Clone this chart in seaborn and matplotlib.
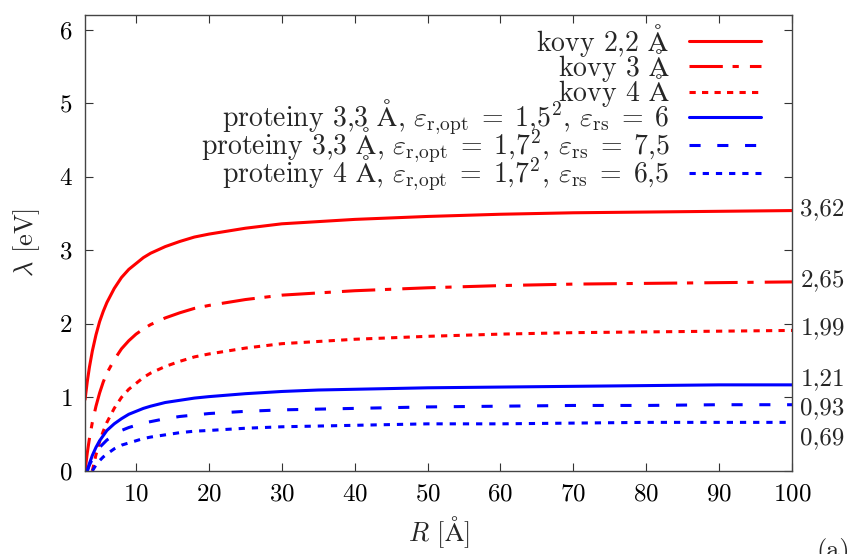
import matplotlib
matplotlib.use("Agg")
import matplotlib.pyplot as plt
import seaborn as sns
import pandas as pd

# ---- data ----
R_a = [3, 3.3, 3.6, 4, 4.5, 5, 5.5, 6, 7, 8, 9, 10, 11, 12, 14, 16, 18, 20, 25, 30, 35, 40, 50, 60, 70, 80, 90, 100]
kovy22 = [0.97, 1.21, 1.41, 1.63, 1.85, 2.03, 2.17, 2.29, 2.48, 2.63, 2.74, 2.82, 2.90, 2.96, 3.05, 3.12, 3.18, 3.22,
          3.30, 3.36, 3.39, 3.42, 3.46, 3.49, 3.51, 3.52, 3.53, 3.54]
kovy3 = [0.00, 0.24, 0.44, 0.66, 0.88, 1.06, 1.21, 1.33, 1.51, 1.66, 1.77, 1.86, 1.93, 1.99, 2.08, 2.15, 2.21, 2.25,
         2.33, 2.39, 2.42, 2.45, 2.49, 2.52, 2.54, 2.55, 2.56, 2.57]

R_b = [4, 4.5, 5, 5.5, 6, 7, 8, 9, 10, 11, 12, 14, 16, 18, 20, 25, 30, 35, 40, 50, 60, 70, 80, 90, 100]
kovy4 = [0.00, 0.22, 0.40, 0.54, 0.66, 0.85, 1.00, 1.11, 1.19, 1.27, 1.33, 1.42, 1.49, 1.55, 1.59, 1.67, 1.73, 1.76,
         1.79, 1.83, 1.86, 1.88, 1.89, 1.90, 1.91]
prot4 = [0.00, 0.08, 0.14, 0.19, 0.23, 0.30, 0.35, 0.38, 0.41, 0.44, 0.46, 0.49, 0.52, 0.54, 0.55, 0.58, 0.60, 0.61,
         0.62, 0.64, 0.64, 0.65, 0.66, 0.66, 0.66]

R_c = [3.3, 3.6, 4, 4.5, 5, 5.5, 6, 7, 8, 9, 10, 11, 12, 14, 16, 18, 20, 25, 30, 35, 40, 50, 60, 70, 80, 90, 100]
prot33a = [0.00, 0.10, 0.21, 0.32, 0.41, 0.48, 0.55, 0.64, 0.71, 0.77, 0.81, 0.85, 0.88, 0.93, 0.96, 0.99, 1.01, 1.05,
           1.08, 1.10, 1.11, 1.13, 1.14, 1.15, 1.16, 1.17, 1.17]
prot33b = [0.00, 0.08, 0.16, 0.25, 0.32, 0.37, 0.42, 0.49, 0.55, 0.59, 0.62, 0.65, 0.67, 0.71, 0.74, 0.76, 0.78, 0.81,
           0.83, 0.84, 0.85, 0.87, 0.88, 0.89, 0.89, 0.90, 0.90]

ANG = "$\\mathrm{\u00C5}$"
series_labels = [
    "kovy 2,2 " + ANG,
    "kovy 3 " + ANG,
    "kovy 4 " + ANG,
    "proteiny 3,3 " + ANG + r", $\varepsilon_{\mathrm{r{,}opt}}\;=\;1{,}5^2$, $\varepsilon_{\mathrm{rs}}\;=\;6$",
    "proteiny 3,3 " + ANG + r", $\varepsilon_{\mathrm{r{,}opt}}\;=\;1{,}7^2$, $\varepsilon_{\mathrm{rs}}\;=\;7{,}5$",
    "proteiny 4 " + ANG + r", $\varepsilon_{\mathrm{r{,}opt}}\;=\;1{,}7^2$, $\varepsilon_{\mathrm{rs}}\;=\;6{,}5$",
]
end_labels = ["3,62", "2,65", "1,99", "1,21", "0,93", "0,69"]
x_ticks = [10, 20, 30, 40, 50, 60, 70, 80, 90, 100]
y_ticks = [0, 1, 2, 3, 4, 5, 6]

# ---- style ----
sns.set_theme(style="ticks")
plt.rcParams["font.family"] = ["cmr10", "DejaVu Serif"]
plt.rcParams["mathtext.fontset"] = "cm"
plt.rcParams["axes.unicode_minus"] = False
plt.rcParams["axes.formatter.use_mathtext"] = True
plt.rcParams["lines.scale_dashes"] = False

RED = "#ff0000"
BLUE = "#0000ff"
styles = [
    (RED, "-"),
    (RED, (0, (24, 7, 4.5, 8))),
    (RED, (0, (4.5, 4.5))),
    (BLUE, "-"),
    (BLUE, (0, (8, 12))),
    (BLUE, (0, (4.5, 5))),
]
xs = [R_a, R_a, R_b, R_c, R_c, R_b]
ys = [kovy22, kovy3, kovy4, prot33a, prot33b, prot4]

fig = plt.figure(figsize=(8.53, 5.54), dpi=100)
ax = fig.add_axes([0.0997, 0.150, 0.8288, 0.823])

for x, y, lab, (col, ls) in zip(xs, ys, series_labels, styles):
    df = pd.DataFrame({"R": x, "lam": y})
    sns.lineplot(data=df, x="R", y="lam", ax=ax, color=col, linestyle=ls,
                 linewidth=2.2, label=lab, estimator=None, sort=True)

ax.set_xlim(3, 100)
ax.set_ylim(0, 6.2)
ax.set_xticks(x_ticks)
ax.set_yticks(y_ticks)
ax.tick_params(direction="in", length=6, width=0.8, top=True, right=True,
               labelsize=18, pad=9, colors="#333333", labelcolor="black")
for sp in ax.spines.values():
    sp.set_visible(True)
    sp.set_linewidth(1.0)
    sp.set_color("#444444")

ax.set_xlabel(r"$R$ [" + ANG + "]", fontsize=19, labelpad=6)
ax.set_ylabel(r"$\lambda$ [eV]", fontsize=19, labelpad=12)

# labels at the right end of each curve
label_y = [3.56, 2.59, 1.94, 1.25, 0.85, 0.45]
for lab, yy in zip(end_labels, label_y):
    ax.annotate(lab, xy=(1.0, yy), xycoords=("axes fraction", "data"),
                xytext=(6, 0), textcoords="offset points", ha="left", va="center",
                fontsize=18, annotation_clip=False)

leg = ax.legend(loc="upper right", bbox_to_anchor=(0.956, 0.985), frameon=False,
                markerfirst=False, fontsize=20, handlelength=2.6, handletextpad=0.7,
                labelspacing=-0.42, borderpad=0, borderaxespad=0)

fig.text(0.997, 0.028, "(a)", ha="right", va="top", fontsize=19)

fig.savefig("out.png", dpi=100)
